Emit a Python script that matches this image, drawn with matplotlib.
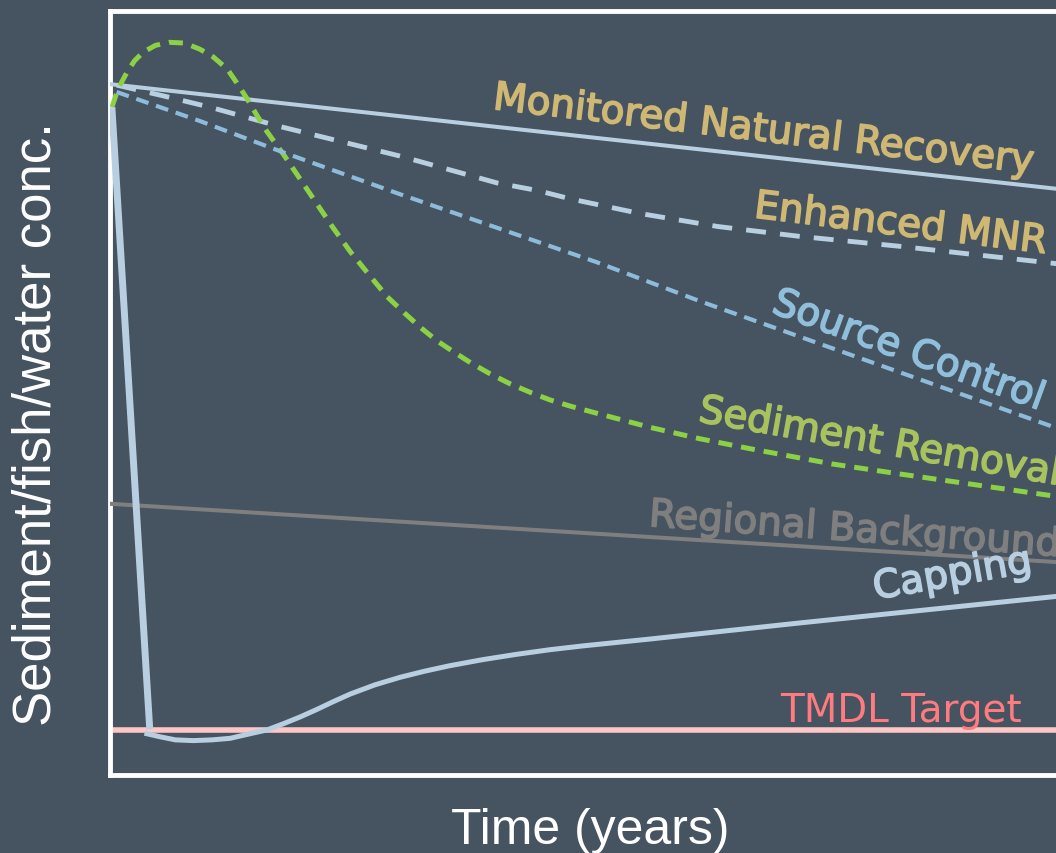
import matplotlib
matplotlib.use("Agg")
import matplotlib.pyplot as plt
import matplotlib.patheffects as pe

# concentration vs time for each remedy (arbitrary units, time 0-10)
mnr_t = [0.02, 10.1]
mnr_y = [90.4, 76.6]

emnr_t = [0.07, 0.56, 1.06, 1.79, 3.07, 4.09, 4.52, 4.87, 5.60, 6.42, 7.29, 8.35, 10.1]
emnr_y = [90.3, 88.9, 87.4, 84.9, 81.0, 77.5, 76.5, 75.4, 73.5, 71.8, 70.5, 69.2, 66.8]

src_t = [0.07, 0.95, 1.83, 3.07, 4.12, 5.15, 6.24, 10.1]
src_y = [89.4, 85.6, 81.5, 76.0, 71.5, 67.1, 62.0, 45.0]

rem_t = [0.02, 0.085, 0.18, 0.26, 0.35, 0.48, 0.63, 0.79, 0.95, 1.09, 1.24,
         1.34, 1.45, 1.55, 1.66, 1.83, 2.01, 2.19, 2.36, 2.54, 2.75, 2.93,
         3.11, 3.28, 3.46, 3.63, 3.82, 4.02, 4.23, 4.44, 4.65, 4.86, 5.10,
         5.71, 6.24, 6.77, 7.64, 8.35, 10.1]
rem_y = [87.4, 89.8, 92.0, 93.5, 94.6, 95.5, 95.9, 95.8, 95.0, 94.0, 92.4,
         90.6, 88.5, 86.4, 84.2, 81.3, 78.0, 74.7, 71.6, 68.5, 65.3, 62.6,
         60.5, 58.6, 56.8, 55.4, 53.9, 52.5, 51.2, 50.1, 49.1, 48.3, 47.5,
         45.5, 44.0, 42.7, 40.7, 39.4, 36.3]

bkg_t = [0.0, 10.1]
bkg_y = [35.5, 27.8]

# capping: sharp drop at placement, then slow recontamination
cap_drop_t = [0.02, 0.42]
cap_drop_y = [87.4, 6.0]
cap_t = [0.39, 0.53, 0.69, 0.88, 1.08, 1.27, 1.48, 1.66, 1.83, 2.01, 2.19,
         2.36, 2.54, 2.80, 3.07, 3.33, 3.59, 3.94, 4.30, 4.65, 5.0, 5.71,
         7.29, 10.1]
cap_y = [5.4, 5.0, 4.6, 4.5, 4.6, 4.8, 5.4, 5.9, 6.7, 7.6, 8.6,
         9.6, 10.6, 11.8, 12.8, 13.6, 14.3, 15.1, 15.8, 16.4, 16.9, 17.8,
         19.9, 23.5]

tmdl = 5.9

bg = '#465360'
light = '#b7cfe0'

fig = plt.figure(figsize=(10.56, 8.54), dpi=100, facecolor=bg)
ax = fig.add_axes([110/1056, 78/854, 1000/1056, 764/854])
ax.set_facecolor(bg)
ax.set_xlim(0, 1000/94.6)
ax.set_ylim(0, 100)
ax.set_xticks([])
ax.set_yticks([])
for s in ax.spines.values():
    s.set_color('white')
    s.set_linewidth(3.5)

ax.axhline(tmdl, color='#ffc6c6', lw=4, zorder=2)
ax.plot(bkg_t, bkg_y, color='#7f7f7f', lw=2.9, zorder=3)
ax.plot(mnr_t, mnr_y, color=light, lw=2.9, zorder=3)
ax.plot(emnr_t, emnr_y, color=light, lw=3.5, ls=(0, (4.1, 2.9)), zorder=3)
ax.plot(src_t, src_y, color='#8dbbd9', lw=3.0, ls=(0, (3.1, 1.9)), zorder=5)
ax.plot(rem_t, rem_y, color='#8cd046', lw=3.6, ls=(0, (2.8, 1.8)), zorder=4)
ax.plot(cap_drop_t, cap_drop_y, color=light, lw=5, solid_capstyle='butt', zorder=4)
ax.plot(cap_t, cap_y, color=light, lw=3.6, zorder=4)


def label(x, y, s, c, rot):
    ax.text(x, y, s, color=c, rotation=rot, fontsize=28, family='DejaVu Sans',
            rotation_mode='anchor', ha='left', va='baseline', clip_on=False,
            path_effects=[pe.withStroke(linewidth=1.2, foreground=c)])


label(4.04, 87.2, 'Monitored Natural Recovery', '#cfb874', -6.8)
label(6.80, 73.0, 'Enhanced MNR', '#cfb874', -7)
label(6.98, 60.6, 'Source Control', '#8fbfdb', -20)
label(6.21, 46.3, 'Sediment Removal', '#a8c35e', -10)
label(5.69, 32.6, 'Regional Background', '#7f7f7f', -4.2)
label(8.09, 23.0, 'Capping', light, 9.9)
ax.text(7.08, 7.1, 'TMDL Target', color='#ff7b7f', fontsize=28,
        family='DejaVu Sans', ha='left', va='baseline')

fig.text(37/1056, 0.5035, 'Sediment/fish/water conc.', rotation=90, color='white',
         fontsize=38, family='Liberation Sans', ha='center', va='center')
fig.text(0.5585, 10/854, 'Time (years)', color='white', fontsize=36,
         family='Liberation Sans', ha='center', va='baseline')

fig.savefig('out.png', dpi=100, facecolor=bg)
